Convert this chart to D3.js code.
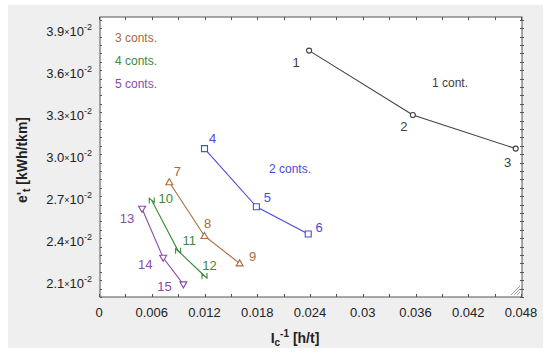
<!DOCTYPE html>
<html>
<head>
<meta charset="utf-8">
<script src="https://cdn.jsdelivr.net/npm/d3@7"></script>
<style>
  body { margin: 0; background: #fff; }
  text { font-family: Arial, "Liberation Sans", sans-serif; }
</style>
</head>
<body>
<div id="chart"></div>
<script>
// data
var seriesNames = ["1 cont.", "2 conts.", "3 conts.", "4 conts.", "5 conts."];
var seriesColors = ["#404040", "#4a4ae0", "#a86a3c", "#3a8a3a", "#8a4aa8"];
var seriesMarkers = ["circle", "square", "triUp", "bowtie", "triDown"];

var x1 = [0.0239, 0.0357, 0.0474], y1 = [0.0376, 0.0330, 0.0306], ids1 = [1, 2, 3];
var x2 = [0.0120, 0.0179, 0.0238], y2 = [0.0306, 0.02645, 0.0245], ids2 = [4, 5, 6];
var x3 = [0.0080, 0.0120, 0.0160], y3 = [0.0282, 0.02436, 0.0224], ids3 = [7, 8, 9];
var x4 = [0.0060, 0.0090, 0.0120], y4 = [0.0269, 0.0233, 0.0215], ids4 = [10, 11, 12];
var x5 = [0.0049, 0.0073, 0.0096], y5 = [0.0263, 0.0228, 0.0209], ids5 = [13, 14, 15];

var xTicks = [0, 0.006, 0.012, 0.018, 0.024, 0.03, 0.036, 0.042, 0.048];
var yTicks = [0.021, 0.024, 0.027, 0.030, 0.033, 0.036, 0.039];

// label offsets (px) for each point number, in the same order
var labelOffsets = [
    [[-13, 11], [-9, 11], [-8, 13]],
    [[8, -11], [11, -10], [11, -7]],
    [[8, -11], [3, -13], [13, -7]],
    [[14, -2], [11, -11], [5, -11]],
    [[-15, 9], [-18, 6], [-19, 2]]
];

var series = [
    {x: x1, y: y1, ids: ids1},
    {x: x2, y: y2, ids: ids2},
    {x: x3, y: y3, ids: ids3},
    {x: x4, y: y4, ids: ids4},
    {x: x5, y: y5, ids: ids5}
];

var W = 550, H = 358;
var margin = {top: 17, right: 28, bottom: 61, left: 100};
var width = W - margin.left - margin.right;
var height = H - margin.top - margin.bottom;

var svg = d3.select("#chart").append("svg")
    .attr("width", W)
    .attr("height", H);

// gray panel
svg.append("rect")
    .attr("x", 8).attr("y", 5)
    .attr("width", 535).attr("height", 343)
    .attr("fill", "#efefef");

var g = svg.append("g")
    .attr("transform", "translate(" + margin.left + "," + margin.top + ")");

var x = d3.scaleLinear().domain([0, 0.048]).range([-1, width - 1]);
var y = d3.scaleLinear().domain([0.020, 0.040]).range([height, 0]);

g.append("rect")
    .attr("width", width).attr("height", height)
    .attr("fill", "#fff")
    .attr("stroke", "#555").attr("stroke-width", 1);

// minor/major ticks, all pointing inward
var xMinor = d3.range(0, 0.0481, 0.003);
var yMinor = d3.range(0.020, 0.0401, 0.0006);

var tickG = g.append("g").attr("stroke", "#555").attr("stroke-width", 1);
xMinor.forEach(function(v) {
    var px = Math.round(x(v)) + 0.5;
    tickG.append("line").attr("x1", px).attr("x2", px).attr("y1", height).attr("y2", height - 3);
    tickG.append("line").attr("x1", px).attr("x2", px).attr("y1", 0).attr("y2", 3);
});
yMinor.forEach(function(v) {
    var py = Math.round(y(v)) + 0.5;
    var major = yTicks.some(function(t) { return Math.abs(t - v) < 1e-6; });
    var len = major ? 4 : 2;
    tickG.append("line").attr("x1", 0).attr("x2", len).attr("y1", py).attr("y2", py);
    tickG.append("line").attr("x1", width - len).attr("x2", width + 2).attr("y1", py).attr("y2", py);
});

// x tick labels
g.append("g").selectAll("text")
    .data(xTicks)
    .enter().append("text")
    .attr("x", function(d) { return x(d); })
    .attr("y", height + 20)
    .attr("text-anchor", "middle")
    .attr("font-size", 13)
    .attr("fill", "#222")
    .text(function(d) { return d === 0 ? "0" : d3.format("")(+d.toFixed(3)); });

// y tick labels: a.b×10^-2
var yl = g.append("g").selectAll("text")
    .data(yTicks)
    .enter().append("text")
    .attr("x", -8)
    .attr("y", function(d) { return y(d) + 5; })
    .attr("text-anchor", "end")
    .attr("font-size", 13)
    .attr("fill", "#222");
yl.append("tspan").text(function(d) { return (d * 100).toFixed(1); });
yl.append("tspan").attr("font-size", 9).attr("dy", -1).text("\u00d7");
yl.append("tspan").attr("dy", 1).text("10");
yl.append("tspan").attr("font-size", 9).attr("dy", -6).text("-2");

// axis titles
var xt = svg.append("text")
    .attr("x", 295).attr("y", 343)
    .attr("text-anchor", "middle")
    .attr("font-size", 14).attr("font-weight", "bold")
    .attr("fill", "#222");
xt.append("tspan").text("I");
xt.append("tspan").attr("font-size", 10).attr("dy", 3).text("c");
xt.append("tspan").attr("font-size", 10).attr("dy", -9).text("-1");
xt.append("tspan").attr("dy", 6).text(" [h/t]");

var yt = svg.append("text")
    .attr("transform", "translate(27,160) rotate(-90)")
    .attr("text-anchor", "middle")
    .attr("font-size", 14).attr("font-weight", "bold")
    .attr("fill", "#222");
yt.append("tspan").text("e'");
yt.append("tspan").attr("font-size", 10).attr("dy", 3).text("t");
yt.append("tspan").attr("dy", -3).text("  [kWh/tkm]");

// markers
function markerPath(type) {
    switch (type) {
        case "square": return "M-3,-3L3,-3L3,3L-3,3Z";
        case "triUp": return "M0,-3.5L3.5,2.5L-3.5,2.5Z";
        case "triDown": return "M0,3.5L3.5,-2.5L-3.5,-2.5Z";
        case "bowtie": return "M-2.5,-3L-2.5,3M2.5,-3L2.5,3M-2.5,-2L2.5,2";
        default: return d3.symbol().type(d3.symbolCircle).size(20)();
    }
}

var line = d3.line()
    .x(function(d) { return x(d[0]); })
    .y(function(d) { return y(d[1]); });

series.forEach(function(s, si) {
    var pts = s.x.map(function(v, i) { return [v, s.y[i], s.ids[i]]; });
    var col = seriesColors[si];
    var sg = g.append("g");
    sg.append("path")
        .datum(pts)
        .attr("d", line)
        .attr("fill", "none")
        .attr("stroke", col)
        .attr("stroke-width", 1.1);
    sg.selectAll(".m")
        .data(pts)
        .enter().append("path")
        .attr("class", "m")
        .attr("transform", function(d) { return "translate(" + x(d[0]) + "," + y(d[1]) + ")"; })
        .attr("d", markerPath(seriesMarkers[si]))
        .attr("fill", "#fff")
        .attr("stroke", col)
        .attr("stroke-width", 1.1);
    sg.selectAll(".lbl")
        .data(pts)
        .enter().append("text")
        .attr("class", "lbl")
        .attr("x", function(d, i) { return x(d[0]) + labelOffsets[si][i][0]; })
        .attr("y", function(d, i) { return y(d[1]) + labelOffsets[si][i][1] + 5; })
        .attr("text-anchor", "middle")
        .attr("font-size", 13)
        .attr("fill", col)
        .text(function(d) { return d[2]; });
});

// series annotations
var notePos = [[450, 87, "middle"], [290, 173, "middle"], [15, 20, "start"], [15, 43, "start"], [15, 66, "start"]];
seriesNames.forEach(function(name, i) {
    var p = notePos[i];
    svg.append("text")
        .attr("x", i < 2 ? p[0] : margin.left + p[0])
        .attr("y", i < 2 ? p[1] : margin.top + p[1] + 5)
        .attr("text-anchor", p[2])
        .attr("font-size", 12)
        .attr("fill", seriesColors[i])
        .text(name);
});

// resize grip in the corner
var grip = g.append("g").attr("stroke", "#888").attr("stroke-width", 0.8);
[3, 6, 9].forEach(function(k) {
    grip.append("line")
        .attr("x1", width - 2).attr("y1", height - 2 - k)
        .attr("x2", width - 2 - k).attr("y2", height - 2);
});
</script>
</body>
</html>
